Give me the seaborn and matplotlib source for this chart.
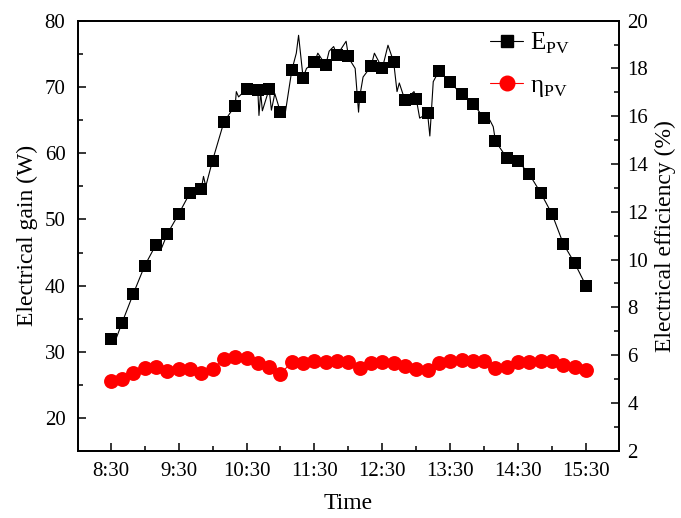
import numpy as np
import pandas as pd
import matplotlib
matplotlib.use("Agg")
import matplotlib.pyplot as plt
from matplotlib.lines import Line2D
from matplotlib.ticker import MultipleLocator, FuncFormatter
import seaborn as sns

# --- data (minutes after 8:30) ---
mark_min = np.arange(0, 421, 10)
E_pv = [31.9, 34.4, 38.8, 43.0, 46.2, 47.8, 50.8, 54.0, 54.6, 58.9,
        64.7, 67.2, 69.7, 69.5, 69.7, 66.2, 72.5, 71.4, 73.7, 73.3,
        74.8, 74.7, 68.5, 73.1, 72.8, 73.8, 68.0, 68.2, 66.0, 72.4,
        70.7, 68.9, 67.5, 65.3, 61.8, 59.3, 58.8, 56.8, 54.0, 50.8,
        46.3, 43.4, 40.0]
eta_pv = [4.93, 4.99, 5.24, 5.48, 5.52, 5.34, 5.41, 5.43, 5.27, 5.43,
          5.83, 5.91, 5.87, 5.68, 5.52, 5.21, 5.71, 5.66, 5.76, 5.73,
          5.76, 5.71, 5.48, 5.68, 5.73, 5.66, 5.56, 5.41, 5.38, 5.68,
          5.76, 5.80, 5.76, 5.76, 5.45, 5.49, 5.70, 5.73, 5.74, 5.76,
          5.59, 5.52, 5.38]

# extra points of the thin measured line between the markers (spikes / dips)
E_extra_min = [3, 45, 82, 84, 111, 113, 131, 132.5, 134, 142, 145, 154, 164, 166,
               173, 183, 193, 197, 208, 212, 216, 219, 223, 233, 245, 253, 255,
               268, 273, 282, 285, 335, 338]
E_extra_val = [31.2, 45.7, 56.5, 55.0, 69.3, 68.5, 65.7, 69.2, 66.4, 66.5, 69.0, 65.8,
               75.1, 77.8, 72.8, 75.1, 75.4, 76.1, 76.9, 73.9, 72.8, 66.2, 71.5,
               75.1, 76.3, 69.3, 70.6, 69.3, 65.3, 62.6, 70.8, 65.0, 64.0]
eta_extra_min = [8, 283]
eta_extra_val = [4.75, 5.10]

hour_ticks = [8.5, 9.5, 10.5, 11.5, 12.5, 13.5, 14.5, 15.5]

# --- build tables ---
marks = pd.DataFrame({"t": 8.5 + mark_min / 60, "E": E_pv, "eta": eta_pv})
E_line = pd.concat([
    pd.DataFrame({"t": marks["t"], "v": E_pv}),
    pd.DataFrame({"t": 8.5 + np.array(E_extra_min) / 60, "v": E_extra_val}),
]).sort_values("t")
eta_line = pd.concat([
    pd.DataFrame({"t": marks["t"], "v": eta_pv}),
    pd.DataFrame({"t": 8.5 + np.array(eta_extra_min) / 60, "v": eta_extra_val}),
]).sort_values("t")

sns.set_style("ticks")
plt.rcParams["font.family"] = ["Liberation Serif", "DejaVu Serif"]
plt.rcParams["mathtext.fontset"] = "custom"
plt.rcParams["mathtext.rm"] = "Liberation Serif"
plt.rcParams["xtick.direction"] = "in"
plt.rcParams["ytick.direction"] = "in"
for key in ["text.color", "axes.labelcolor", "xtick.color", "ytick.color",
            "xtick.labelcolor", "ytick.labelcolor", "axes.edgecolor"]:
    plt.rcParams[key] = "black"

fig = plt.figure(figsize=(6.81, 5.18), dpi=100)
ax = fig.add_axes([0.1145, 0.13, 0.7945, 0.83])
ax2 = ax.twinx()

sns.lineplot(data=E_line, x="t", y="v", ax=ax, color="black", lw=0.8,
             estimator=None, sort=False)
sns.scatterplot(data=marks, x="t", y="E", ax=ax, marker="s", s=75,
                color="black", edgecolor="black", linewidth=0, zorder=3)
sns.lineplot(data=eta_line, x="t", y="v", ax=ax2, color="red", lw=0.8,
             estimator=None, sort=False)
sns.scatterplot(data=marks, x="t", y="eta", ax=ax2, marker="o", s=115,
                color="red", edgecolor="red", linewidth=0, zorder=3)

ax.set_xlim(8.018, 15.986)
ax.set_ylim(15.1, 80)
ax2.set_ylim(2, 20)

ax.set_xticks(hour_ticks)
ax.xaxis.set_major_formatter(FuncFormatter(
    lambda v, p: f"{int(v)}:{int(round((v % 1) * 60)):02d}"))
ax.xaxis.set_minor_locator(MultipleLocator(0.5))
ax.yaxis.set_major_locator(MultipleLocator(10))
ax.yaxis.set_minor_locator(MultipleLocator(5))
ax2.yaxis.set_major_locator(MultipleLocator(2))
ax2.yaxis.set_minor_locator(MultipleLocator(1))

for a in (ax, ax2):
    a.tick_params(which="major", length=6, width=1.1, labelsize=15)
    a.tick_params(which="minor", length=3.5, width=1.1)
    for s in a.spines.values():
        s.set_linewidth(1.3)
ax.tick_params(axis="x", which="both", top=False, pad=8)
ax.tick_params(axis="y", pad=9)
ax2.tick_params(axis="y", pad=6)

ax.set_xlabel("Time", fontsize=17, labelpad=9)
ax.set_ylabel("Electrical gain (W)", fontsize=17, labelpad=5)
ax2.set_ylabel("Electrical efficiency (%)", fontsize=17, labelpad=5)

handles = [
    Line2D([], [], color="black", lw=0.8, marker="s", markersize=8.5),
    Line2D([], [], color="red", lw=0.8, marker="o", markersize=10.5),
]
labels = [r"E$_{\mathrm{PV}}$", r"η$_{\mathrm{PV}}$"]
ax2.legend(handles, labels, loc="upper left", bbox_to_anchor=(0.762, 0.977),
           frameon=False, fontsize=18, handlelength=1.3, handletextpad=0.3,
           labelspacing=0.75, borderpad=0, borderaxespad=0)

fig.savefig("out.png", dpi=100)
